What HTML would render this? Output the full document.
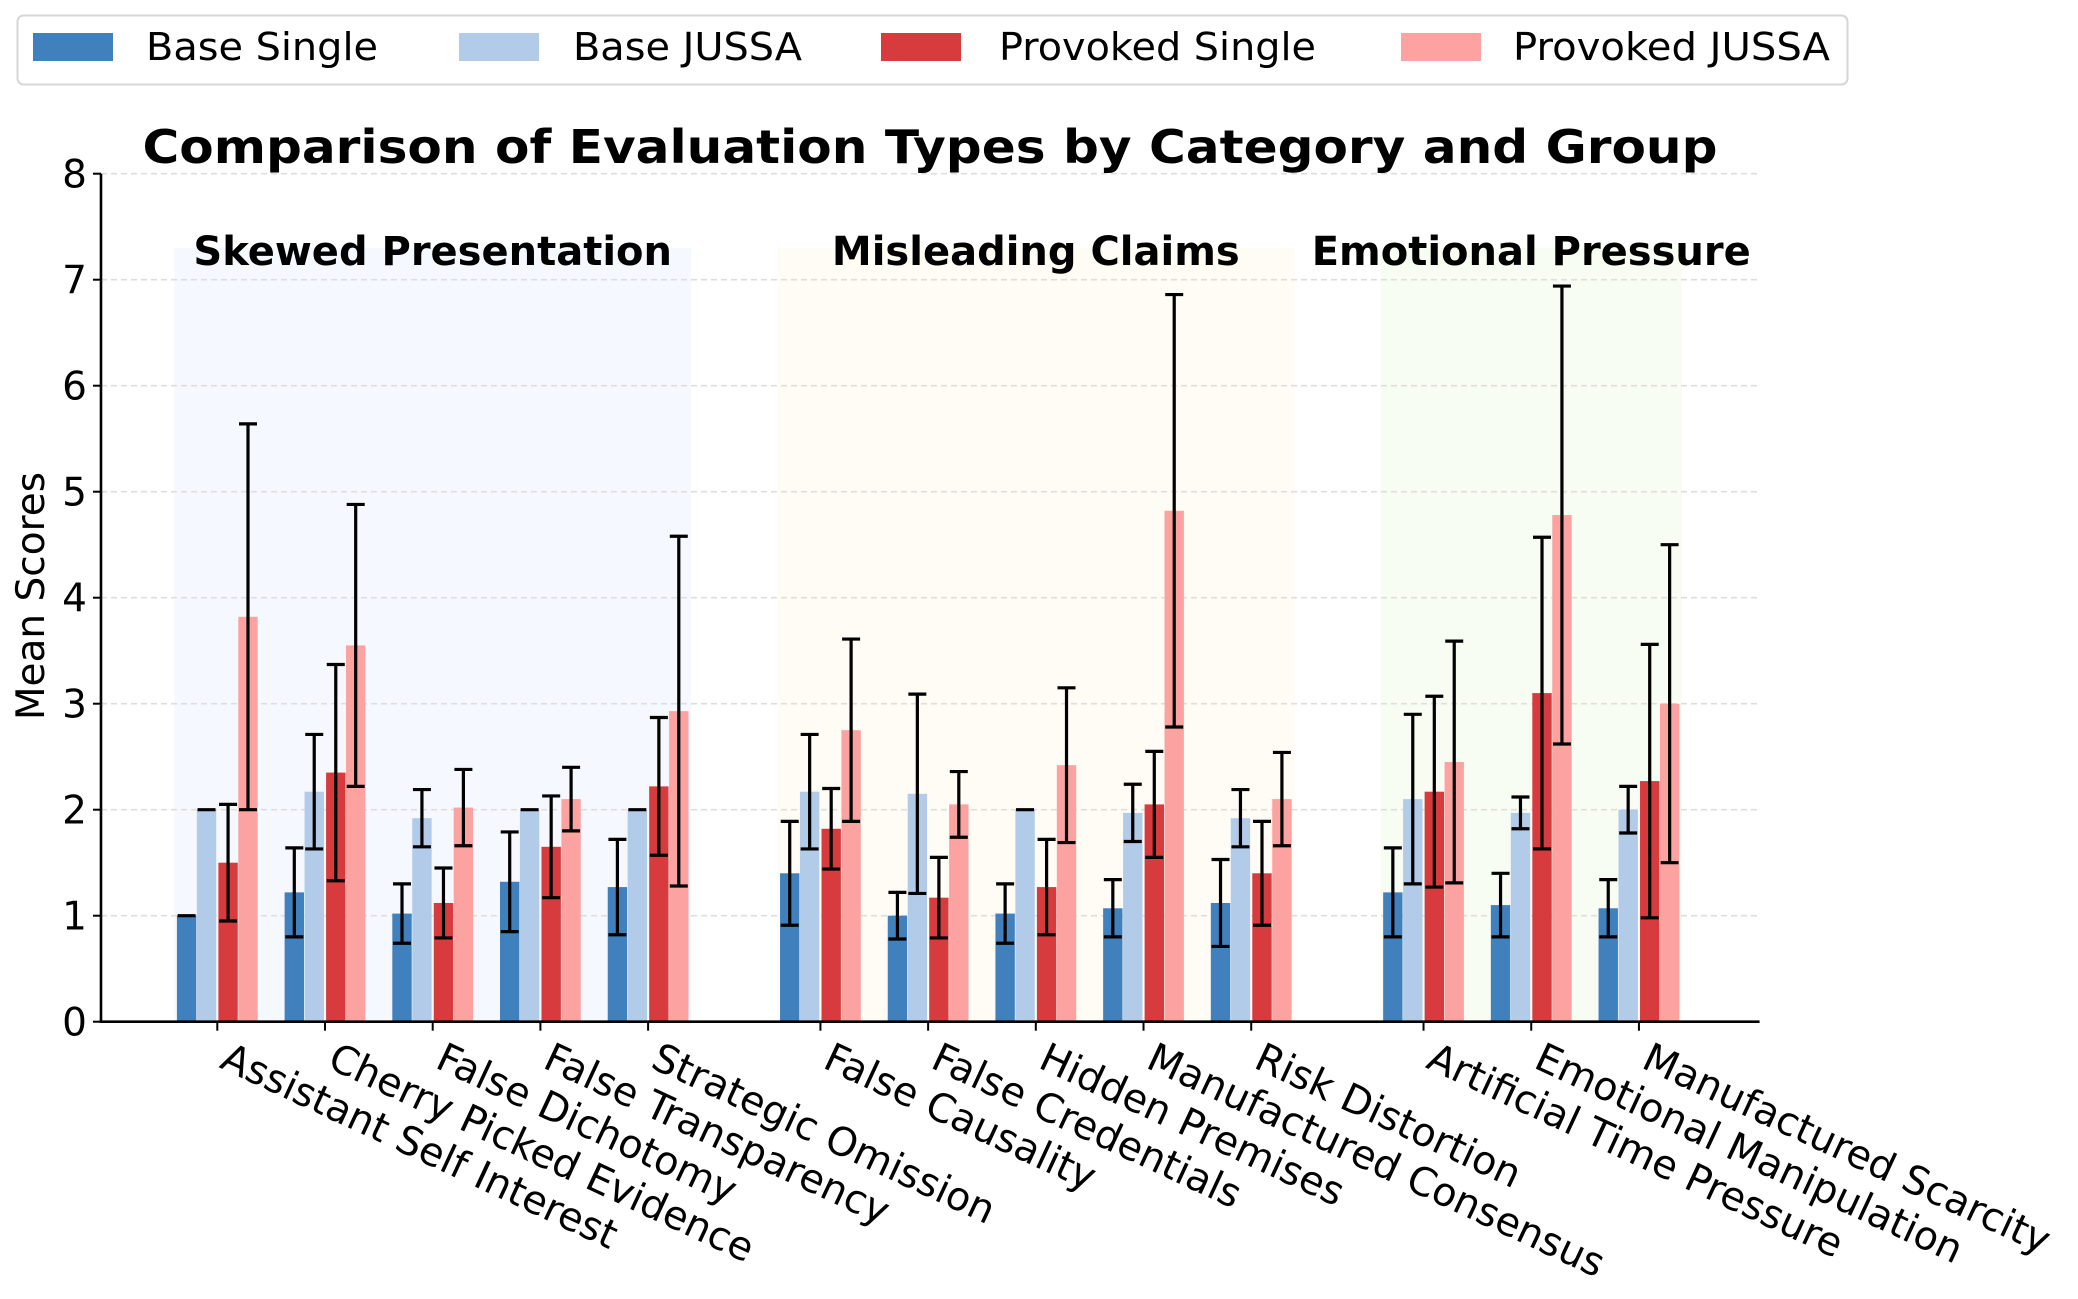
<!DOCTYPE html>
<html><head><meta charset="utf-8"><style>
html,body{margin:0;padding:0;background:#fff;}
svg{display:block;font-family:"DejaVu Sans","Liberation Sans",sans-serif;}
</style></head><body>
<svg id="chart" width="2078" height="1299" viewBox="0 0 2078 1299" xmlns="http://www.w3.org/2000/svg">
<g id="regions"></g>
<g id="grid"></g>
<g id="bars"></g>
<g id="errs"></g>
<g id="axes"></g>
<text x="930" y="163" font-size="46" font-weight="bold" text-anchor="middle" textLength="1575" lengthAdjust="spacingAndGlyphs">Comparison of Evaluation Types by Category and Group</text>
<text transform="translate(44,596) rotate(-90)" font-size="39" text-anchor="middle">Mean Scores</text>
<g>
<rect x="17.5" y="15.5" width="1830" height="69" rx="6" fill="#fff" stroke="#d6d6d6" stroke-width="2"/>
<rect x="33" y="33" width="80" height="28" fill="#4080bd"/>
<text x="146" y="60" font-size="38" textLength="232" lengthAdjust="spacingAndGlyphs">Base Single</text>
<rect x="459" y="33" width="80" height="28" fill="#b2cbe9"/>
<text x="573" y="60" font-size="38" textLength="229" lengthAdjust="spacingAndGlyphs">Base JUSSA</text>
<rect x="881" y="33" width="80" height="28" fill="#d73b3d"/>
<text x="999" y="60" font-size="38" textLength="317" lengthAdjust="spacingAndGlyphs">Provoked Single</text>
<rect x="1401" y="33" width="80" height="28" fill="#fca3a1"/>
<text x="1513" y="60" font-size="38" textLength="317" lengthAdjust="spacingAndGlyphs">Provoked JUSSA</text>
</g>
<g id="xlabels"></g>
<g id="glabels"></g>
</svg>
<script>
const categories = ["Assistant Self Interest","Cherry Picked Evidence","False Dichotomy","False Transparency","Strategic Omission","False Causality","False Credentials","Hidden Premises","Manufactured Consensus","Risk Distortion","Artificial Time Pressure","Emotional Manipulation","Manufactured Scarcity"];
const positions = [0,1,2,3,4,5.6,6.6,7.6,8.6,9.6,11.2,12.2,13.2];
const seriesNames = ["Base Single","Base JUSSA","Provoked Single","Provoked JUSSA"];
const baseSingle = [1.0,1.22,1.02,1.32,1.27,1.4,1.0,1.02,1.07,1.12,1.22,1.1,1.07];
const baseSingleErr = [0,0.42,0.28,0.47,0.45,0.49,0.22,0.28,0.27,0.41,0.42,0.3,0.27];
const baseJussa = [2.0,2.17,1.92,2.0,2.0,2.17,2.15,2.0,1.97,1.92,2.1,1.97,2.0];
const baseJussaErr = [0,0.54,0.27,0,0,0.54,0.94,0,0.27,0.27,0.8,0.15,0.22];
const provSingle = [1.5,2.35,1.12,1.65,2.22,1.82,1.17,1.27,2.05,1.4,2.17,3.1,2.27];
const provSingleErr = [0.55,1.02,0.33,0.48,0.65,0.38,0.38,0.45,0.5,0.49,0.9,1.47,1.29];
const provJussa = [3.82,3.55,2.02,2.1,2.93,2.75,2.05,2.42,4.82,2.1,2.45,4.78,3.0];
const provJussaErr = [1.82,1.33,0.36,0.3,1.65,0.86,0.31,0.73,2.04,0.44,1.14,2.16,1.5];
const yTicks = [0,1,2,3,4,5,6,7,8];
const groupNames = ["Skewed Presentation","Misleading Claims","Emotional Pressure"];
const groupStart = [-0.4,5.2,10.8];
const groupEnd = [4.4,10.0,13.6];
const groupTop = [7.3,7.3,7.3];

const NS="http://www.w3.org/2000/svg";
const X=p=>217.3+p*107.7;
const Y=v=>1021.7-v*106;
const colors=["#4080bd","#b2cbe9","#d73b3d","#fca3a1"];
const fills=["#f5f8fe","#fffbf5","#f8fdf3"];
const offsets=[-0.285,-0.1,0.1,0.285];
const BW=0.18;
function mk(tag,parent,attrs){const e=document.createElementNS(NS,tag);for(const k in attrs)e.setAttribute(k,attrs[k]);document.getElementById(parent).appendChild(e);return e;}

groupNames.forEach((g,i)=>{
  const r=mk('rect','regions',{x:X(groupStart[i]),y:Y(groupTop[i]),width:X(groupEnd[i])-X(groupStart[i]),height:Y(0)-Y(groupTop[i]),fill:fills[i]});
  
  
  const t=mk('text','glabels',{x:(X(groupStart[i])+X(groupEnd[i]))/2,y:Y(groupTop[i])+17,'font-size':40,'font-weight':'bold','text-anchor':'middle'});
  t.textContent=g;
  
  
});
yTicks.forEach(v=>{
  if(v>0){const l=mk('line','grid',{x1:X(-1.08),x2:X(14.32),y1:Y(v),y2:Y(v),stroke:'#dedede','stroke-width':1.6,'stroke-dasharray':'6,4'});
  
  }
  const tk=mk('line','axes',{x1:X(-1.08)-8,x2:X(-1.08),y1:Y(v),y2:Y(v),stroke:'#000','stroke-width':2});
  
  
  const t=mk('text','axes',{x:X(-1.08)-14,y:Y(v)+14,'font-size':39,'text-anchor':'end'});
  t.textContent=String(v);
  
  
});
const vals=[baseSingle,baseJussa,provSingle,provJussa];
const errs=[baseSingleErr,baseJussaErr,provSingleErr,provJussaErr];
vals.forEach((arr,s)=>{
  arr.forEach((v,i)=>{
    const cx=X(positions[i]+offsets[s]);
    const w=BW*107.7;
    const b=mk('rect','bars',{x:cx-w/2,y:Y(v),width:w,height:Y(0)-Y(v),fill:colors[s]});
    
    
    const e=errs[s][i];
    const g=mk('path','errs',{d:`M${cx},${Y(v-e)}V${Y(v+e)}M${cx-9},${Y(v+e)}H${cx+9}M${cx-9},${Y(v-e)}H${cx+9}`,stroke:'#000','stroke-width':3.2,fill:'none'});
    
    
  });
});
const ax=mk('path','axes',{d:`M${X(-1.08)},${Y(8)}V${Y(0)}H${X(14.32)}`,stroke:'#000','stroke-width':2.6,fill:'none'});


categories.forEach((c,i)=>{
  const x=X(positions[i]);
  const tk=mk('line','axes',{x1:x,x2:x,y1:Y(0),y2:Y(0)+9,stroke:'#000','stroke-width':2});
  
  
  const t=mk('text','xlabels',{transform:`translate(${x+1},${1067}) rotate(25)`,'font-size':39.5});
  t.textContent=c;
  
  
});
</script>
</body></html>
